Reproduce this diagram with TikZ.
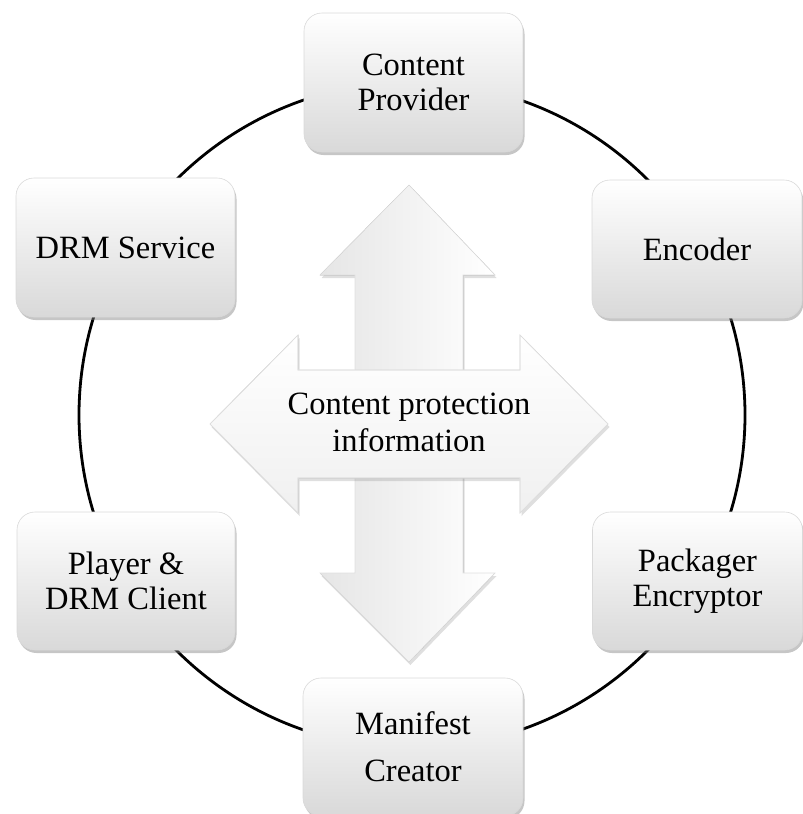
\documentclass[tikz,border=0pt]{standalone}
\usepackage{fontspec}
\setmainfont{Liberation Serif}
\usetikzlibrary{shadows}
\begin{document}
\begin{tikzpicture}[x=1pt,y=-1pt,
  box/.style={rectangle, rounded corners=18pt, draw=gray!30, line width=0.6pt,
    top color=white, bottom color=gray!30,
    drop shadow={opacity=0.45, shadow xshift=1.5pt, shadow yshift=-3pt},
    align=center, font=\fontsize{32.5}{35}\selectfont, inner sep=0pt,
    minimum width=219pt, minimum height=139pt},
  rbox/.style={box, minimum width=210pt, minimum height=138pt},
  ring/.style={line width=2.8pt, black},
  bigarrow/.style={draw=gray!25, line width=0.6pt,
    drop shadow={opacity=0.25, shadow xshift=1.5pt, shadow yshift=-3pt}},
  centertext/.style={align=center, font=\fontsize{32.5}{37}\selectfont}
]
\useasboundingbox (0,0) rectangle (803,814);
\coordinate (c) at (412,415);
\draw[ring] (c) circle[radius=333];

\node[box] (cp) at (413.5,82.5) {Content\\Provider};
\node[box] (drm) at (125.5,247.5) {DRM Service};
\node[rbox] (enc) at (697,249) {Encoder};
\node[rbox] (pkg) at (697.5,581) {Packager\\Encryptor};
\node[box, minimum width=218pt, minimum height=138pt] (ply) at (126,581) {Player \&\\DRM Client};
\node[box, minimum width=220pt, minimum height=138pt] (man) at (413,747) {Manifest\\[12pt]Creator};

\fill[bigarrow, left color=gray!20, right color=white]
  (409,185) -- (495,275) -- (463,275) -- (463,573) -- (495,573) -- (409,662)
  -- (320,573) -- (355,573) -- (355,275) -- (320,275) -- cycle;
\fill[bigarrow, top color=white, bottom color=gray!12]
  (210,424) -- (298,335) -- (298,370) -- (520,370) -- (520,335) -- (608,424)
  -- (520,513) -- (520,478) -- (298,478) -- (298,513) -- cycle;
\draw[draw=gray!25, line width=0.6pt]
  (210,424) -- (298,335) -- (298,370) -- (520,370) -- (520,335) -- (608,424)
  -- (520,513) -- (520,478) -- (298,478) -- (298,513) -- cycle;

\node[centertext] (cpi) at (409,422) {Content protection\\information};
\end{tikzpicture}
\end{document}
